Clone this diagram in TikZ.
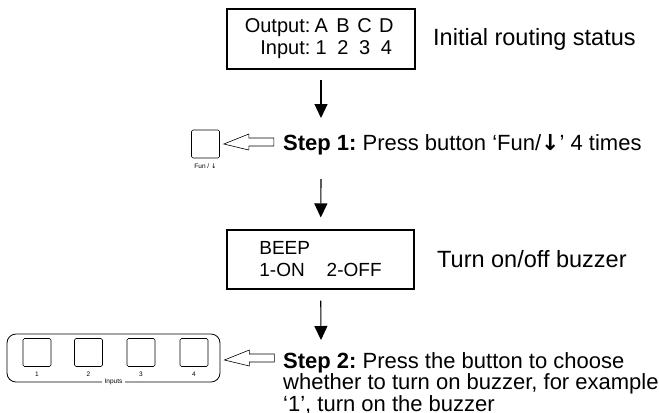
\documentclass[tikz,border=0pt]{standalone}
\usepackage{fontspec}
\setmainfont{Liberation Sans}
\newfontfamily\arrowfont{DejaVu Sans}
\frenchspacing
\usetikzlibrary{arrows.meta}
\begin{document}
\begin{tikzpicture}[x=1bp,y=-1bp,>={Triangle[length=14bp,width=13bp]},line join=miter,
  lcd/.style={draw,line width=1.1bp,minimum width=188bp,minimum height=60bp,inner sep=0pt},
  note/.style={anchor=base west,inner sep=0pt,font=\fontsize{23.5bp}{20bp}\selectfont},
  stepnote/.style={note,font=\fontsize{22bp}{18.5bp}\selectfont},
  key/.style={draw,line width=0.6bp,minimum size=28bp,rounded corners=1.5bp,inner sep=0pt},
  tiny/.style={inner sep=0pt,font=\fontsize{6.5bp}{7bp}\selectfont},
  hollow/.style={draw,line width=0.6bp,fill=white}]
\useasboundingbox (0,0) rectangle (659,412);
%%
\node (node_status) at (321,39) [lcd,align=right,font=\fontsize{20bp}{22bp}\selectfont]
  {Output:\makebox[21.7bp]{A}\makebox[21.7bp]{B}\makebox[21.7bp]{C}\makebox[21.7bp]{D}\\
   Input:\makebox[21.7bp]{1}\makebox[21.7bp]{2}\makebox[21.7bp]{3}\makebox[21.7bp]{4}};
  \node (node_status_txt) at (433,45) [note] {Initial routing status};
  \coordinate (node_step1_in) at (321,118);
  \draw [line width=1.1bp,->,shorten <=10bp] (node_status) -- (node_step1_in);
%
\node (node_step1) at (283,150) [stepnote] {\textbf{Step 1:} Press button ‘Fun/{\arrowfont\bfseries ↓}’ 4 times};
  \node (node_fun) at (205.5,144) [key] {};
  \node (node_fun_txt) at (205.5,166) [tiny] {Fun / {\arrowfont↓}};
  \draw [hollow] (node_fun.east) ++(4,0) -- ++(25,-10) -- ++(0,4) -- ++(25,0) -- ++(0,8) -- ++(-25,0) -- ++(0,4) -- cycle;
%
\node (node_beep) at (320.5,259.5) [lcd,minimum width=187bp,minimum height=59bp,align=left,font=\fontsize{19bp}{22bp}\selectfont]
  {BEEP\\1-ON\hspace{22bp}2-OFF};
  \coordinate (node_beep_in) at (321,179);
  \draw [line width=1.1bp,->,shorten >=12bp] (node_beep_in) -- (node_beep);
  \node (node_beep_txt) at (437,267) [note] {Turn on/off buzzer};
  \coordinate (node_step2_in) at (321,340);
  \draw [line width=1.1bp,->,shorten <=11bp] (node_beep) -- (node_step2_in);
%
\node (node_step2) at (283,352) [stepnote,anchor=north west,align=left]
  {\textbf{Step 2:} Press the button to choose\\whether to turn on buzzer, for example\\‘1’, turn on the buzzer};
  \node (node_inputs) at (113.5,358) [draw,line width=0.8bp,rounded corners=9bp,minimum width=213bp,minimum height=48bp] {};
  \foreach \i/\x in {1/37,2/88.5,3/141,4/194} {
    \node (node_key_\i) at (\x,352.5) [key] {};
    \node (node_num_\i) at (\x,374) [tiny] {\i};
  }
  \node (node_inputs_txt) at (node_inputs.south) [tiny,fill=white,inner xsep=3bp] {Inputs};
  \draw [hollow] (node_inputs.east) ++(4,2) -- ++(25,-10) -- ++(0,4) -- ++(25,0) -- ++(0,8) -- ++(-25,0) -- ++(0,4) -- cycle;
%
\end{tikzpicture}
\end{document}
